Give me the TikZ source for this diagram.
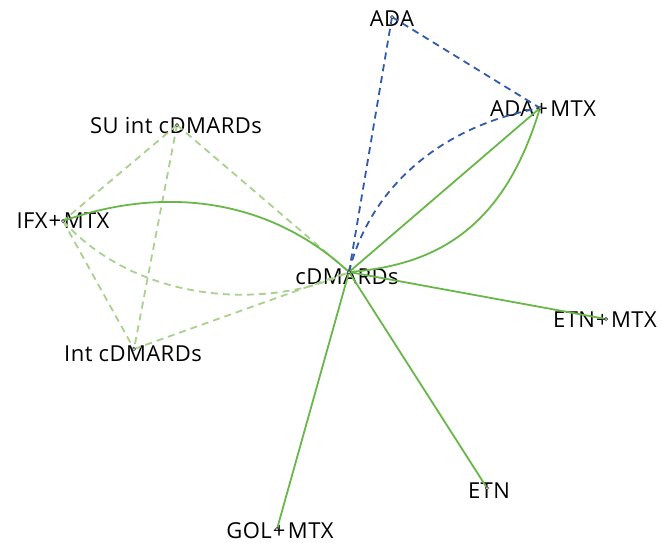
\documentclass[tikz,border=0pt]{standalone}
\usepackage{fontspec}
\setmainfont{Open Sans}[LetterSpace=2]
\definecolor{linkgreen}{RGB}{104,183,72}
\definecolor{lightgreen}{RGB}{169,209,142}
\definecolor{adablue}{RGB}{48,90,170}
% plus sign between two drugs of a combination
\newcommand{\cmb}{\kern1pt+\kern2.5pt}
\begin{document}
\begin{tikzpicture}[
    % One unit is one pixel of the reference, y runs downwards
    x=1pt, y=-1pt,
    % Define styles for the elements
    treat/.style={font=\fontsize{22}{26}\selectfont, inner sep=0pt, anchor=base},
    direct/.style={draw=linkgreen, line width=1.8pt},
    indirect/.style={draw=lightgreen, line width=1.8pt, dash pattern=on 7pt off 5pt},
    adalink/.style={draw=adablue, line width=1.8pt, dash pattern=on 7pt off 5pt},
    point/.style={circle, draw=black, fill=white, line width=0.5pt, inner sep=0pt, minimum size=3.2pt}
  ]

  % --- Step 1: Fix the frame of the whole drawing ---
  \useasboundingbox (0,0) rectangle (661,542);

  % --- Step 2: Define the treatment points ---
  \coordinate (ada) at (392,17);
  \coordinate (adamtx) at (540,108);
  \coordinate (suint) at (177,125);
  \coordinate (ifxmtx) at (63,221);
  \coordinate (cdmards) at (349,272);
  \coordinate (etnmtx) at (606,319);
  \coordinate (intcd) at (134,349);
  \coordinate (etn) at (487,488);
  \coordinate (golmtx) at (277,529);

  % --- Step 3: Write the treatment names ---
  \node[treat] (ada_lbl) at (392,26) {ADA};
  \node[treat] (adamtx_lbl) at (543,116) {ADA\cmb MTX};
  \node[treat] (suint_lbl) at (176,133) {SU int cDMARDs};
  \node[treat] (ifxmtx_lbl) at (63,228) {IFX\cmb MTX};
  \node[treat] (cdmards_lbl) at (347,284) {cDMARDs};
  \node[treat] (etnmtx_lbl) at (605,327) {ETN\cmb MTX};
  \node[treat] (intcd_lbl) at (133,361) {Int cDMARDs};
  \node[treat] (etn_lbl) at (489,498) {ETN};
  \node[treat] (golmtx_lbl) at (280,538) {GOL\cmb MTX};

  % --- Step 4: Indirect comparisons (light dashed) ---
  \draw[indirect] (suint) -- (ifxmtx);
  \draw[indirect] (suint) -- (intcd);
  \draw[indirect] (suint) -- (cdmards);
  \draw[indirect] (ifxmtx) -- (intcd);
  \draw[indirect] (intcd) -- (cdmards);
  \draw[indirect] (ifxmtx) .. controls (140,305) and (270,310) .. (cdmards);

  % --- Step 5: ADA comparisons (blue dashed) ---
  \draw[adalink] (ada) -- (adamtx);
  \draw[adalink] (ada) -- (cdmards);
  \draw[adalink] (cdmards) .. controls (368,195) and (432,128) .. (adamtx);

  % --- Step 6: Direct comparisons (green) ---
  \draw[direct] (cdmards) -- (adamtx);
  \draw[direct] (cdmards) .. controls (440,265) and (505,225) .. (adamtx);
  \draw[direct] (ifxmtx) .. controls (150,190) and (260,190) .. (cdmards);
  \draw[direct] (cdmards) -- (etnmtx);
  \draw[direct] (cdmards) -- (etn);
  \draw[direct] (cdmards) -- (golmtx);

  % --- Step 7: Mark the points on top ---
  \foreach \p in {ada, adamtx, suint, ifxmtx, cdmards, etnmtx, intcd, etn, golmtx}
    \node[point] at (\p) {};

\end{tikzpicture}
\end{document}
